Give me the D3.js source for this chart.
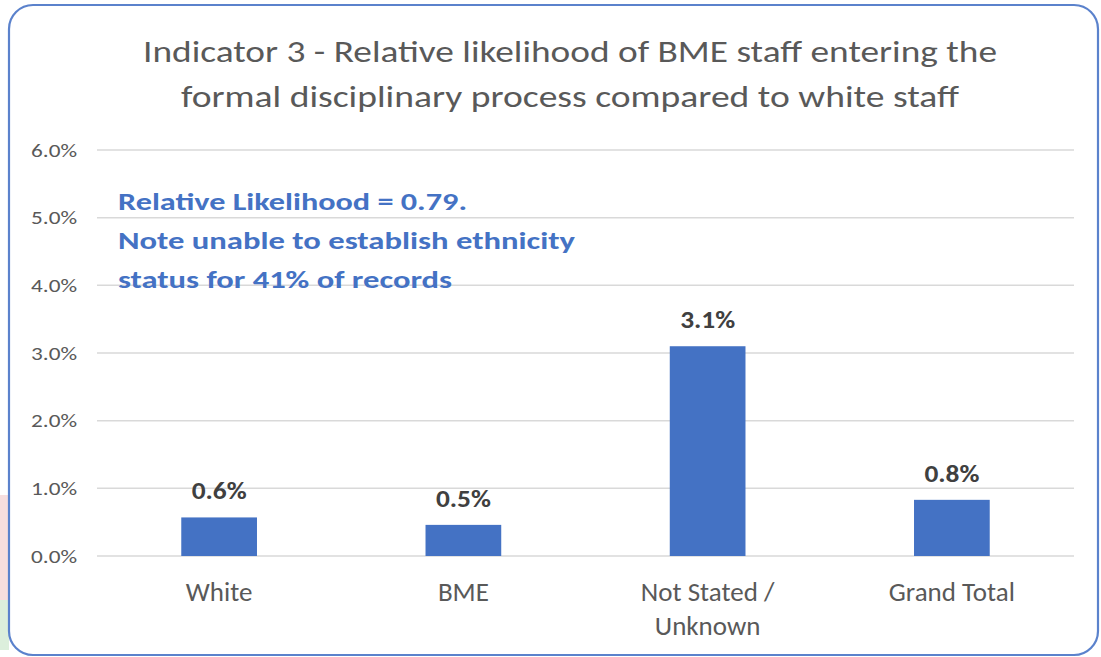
<!DOCTYPE html>
<html>
<head>
<meta charset="utf-8">
<script src="https://cdn.jsdelivr.net/npm/d3@7"></script>
<style>
  html, body { margin: 0; padding: 0; background: #ffffff; }
  svg { display: block; }
</style>
</head>
<body>
<svg id="chart" width="1101" height="657"></svg>
<script>
const categories = ["White", "BME", "Not Stated / Unknown", "Grand Total"];
const categoryLines = [["White"], ["BME"], ["Not Stated /", "Unknown"], ["Grand Total"]];
const values = [0.0057, 0.0046, 0.0310, 0.0083];
const yTicks = [0, 0.01, 0.02, 0.03, 0.04, 0.05, 0.06];
const titleLines = ["Indicator 3 - Relative likelihood of BME staff entering the",
                    "formal disciplinary process compared to white staff"];
const noteLines = ["Relative Likelihood = 0.79.",
                   "Note unable to establish ethnicity",
                   "status for 41% of records"];

const svg = d3.select("#chart");
const font = "Calibri, Carlito, Lato, 'Open Sans', 'Liberation Sans', sans-serif";

// background bleed at left edge
svg.append("rect").attr("x", 0).attr("y", 495).attr("width", 9).attr("height", 105).attr("fill", "#f7dede");
svg.append("rect").attr("x", 0).attr("y", 600).attr("width", 9).attr("height", 50).attr("fill", "#dcefdc");

// frame
svg.append("rect")
  .attr("x", 9).attr("y", 5).attr("width", 1089).attr("height", 650)
  .attr("rx", 24).attr("ry", 24)
  .attr("fill", "#ffffff").attr("stroke", "#5b82cc").attr("stroke-width", 2.2);

const m = { left: 97, right: 1074, top: 150, bottom: 556 };

const x = d3.scaleBand().domain(categories).range([m.left, m.right])
  .paddingInner(0.69).paddingOuter(0.345);
const y = d3.scaleLinear().domain([0, 0.06]).range([m.bottom, m.top]);

// gridlines
svg.append("g").selectAll("line").data(yTicks).join("line")
  .attr("x1", m.left).attr("x2", m.right)
  .attr("y1", d => y(d)).attr("y2", d => y(d))
  .attr("stroke", "#d9d9d9").attr("stroke-width", 1.5);

// y axis labels
const yAxis = d3.axisLeft(y).tickValues(yTicks).tickFormat(d3.format(".1%")).tickSize(0).tickPadding(0);
const yg = svg.append("g").attr("transform", `translate(${m.left - 20},0)`).call(yAxis);
yg.select(".domain").remove();
yg.selectAll("text").attr("font-family", font).attr("font-size", 19).attr("fill", "#595959")
  .attr("textLength", 46).attr("lengthAdjust", "spacingAndGlyphs");

// bars
svg.append("g").selectAll("rect").data(values).join("rect")
  .attr("x", (d, i) => x(categories[i]))
  .attr("width", x.bandwidth())
  .attr("y", d => y(d))
  .attr("height", d => y(0) - y(d))
  .attr("fill", "#4472c4");

// data labels
svg.append("g").selectAll("text").data(values).join("text")
  .attr("x", (d, i) => x(categories[i]) + x.bandwidth() / 2)
  .attr("y", d => y(d) - 18)
  .attr("text-anchor", "middle")
  .attr("font-family", font).attr("font-size", 25).attr("font-weight", "bold")
  .attr("fill", "#404040")
  .attr("textLength", 55).attr("lengthAdjust", "spacingAndGlyphs")
  .text(d => d3.format(".1%")(d));

// x labels
const xl = svg.append("g").selectAll("text").data(categories).join("text")
  .attr("x", d => x(d) + x.bandwidth() / 2)
  .attr("y", 601)
  .attr("text-anchor", "middle")
  .attr("font-family", font).attr("font-size", 27).attr("fill", "#595959");
xl.each(function(d, i) {
  d3.select(this).selectAll("tspan").data(categoryLines[i]).join("tspan")
    .attr("x", x(d) + x.bandwidth() / 2)
    .attr("dy", (t, j) => j === 0 ? 0 : 34)
    .text(t => t);
});

// title
const titleW = [854, 778];
svg.append("g").selectAll("text").data(titleLines).join("text")
  .attr("x", 570).attr("y", (d, i) => 62 + i * 45)
  .attr("text-anchor", "middle")
  .attr("font-family", font).attr("font-size", 31).attr("fill", "#595959")
  .attr("textLength", (d, i) => titleW[i]).attr("lengthAdjust", "spacingAndGlyphs")
  .text(d => d);

// annotation
const noteW = [349, 457, 334];
svg.append("g").selectAll("text").data(noteLines).join("text")
  .attr("x", 118).attr("y", (d, i) => 210 + i * 39)
  .attr("font-family", font).attr("font-size", 25).attr("font-weight", "bold")
  .attr("fill", "#4472c4")
  .attr("textLength", (d, i) => noteW[i]).attr("lengthAdjust", "spacingAndGlyphs")
  .text(d => d);
</script>
</body>
</html>
